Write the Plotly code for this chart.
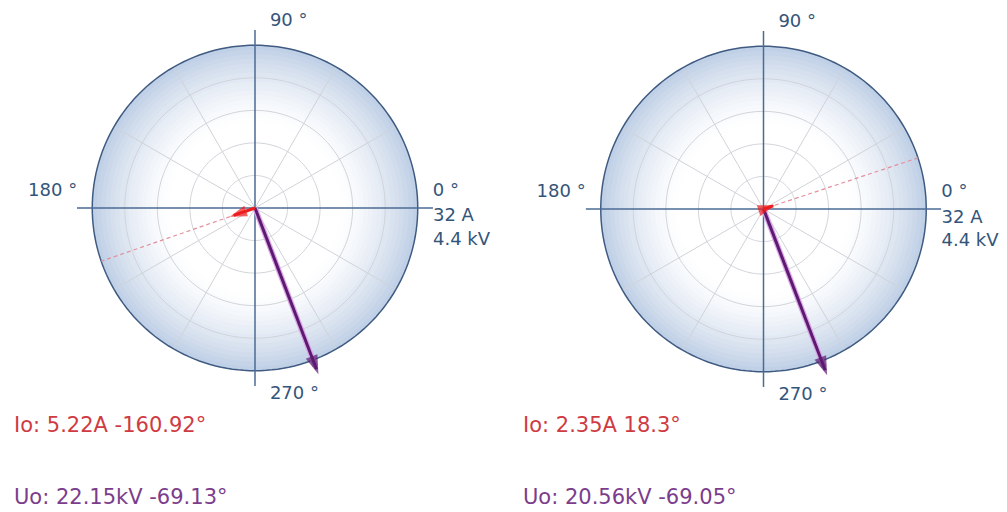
import numpy as np
import plotly.graph_objects as go

# ---- data ----
panels = ["left", "right"]
io_amps = [5.22, 2.35]          # A
io_angles = [-160.92, 18.3]     # degrees
uo_kv = [22.15, 20.56]          # kV
uo_angles = [-69.13, -69.05]    # degrees
scale_amps = 32                 # A at outer ring
scale_kv = 4.4                  # kV at outer ring
angle_labels = ["0 °", "90 °", "180 °", "270 °"]
angle_ticks = [0, 90, 180, 270]

RMAX = 35.0          # radial range (cross arms extend beyond outer ring)
R = scale_amps       # outer ring radius in A units

domains = [
    dict(x=[0.07646, 0.42999], y=[0.24609, 0.94141]),
    dict(x=[0.58143, 0.93496], y=[0.24414, 0.93945]),
]

AXIS_BLUE = "#4b6b95"
RING_BLUE = "#3f5b82"
GRID = "#cfd3d8"
LABEL = "#34557a"
RED = "#ee1c1c"
PURPLE = "#5c1a70"

fig = go.Figure()
full = np.linspace(0, 360, 181)

def grad_color(t):
    w = max(0.0, (t - 0.52) / 0.48) ** 1.5
    c0 = np.array([255, 255, 255])
    c1 = np.array([192, 208, 230])
    c = c0 + (c1 - c0) * w
    return "rgb(%d,%d,%d)" % tuple(int(round(v)) for v in c)

label_theta = {0: 2.3, 90: 85.2, 180: 177.7, 270: 274.8}
label_pos = {0: "top right", 90: "top right", 180: "top left", 270: "bottom right"}

for i, p in enumerate(panels):
    pid = "polar" if i == 0 else "polar2"
    N = 36
    for k in range(N, 0, -1):
        rk = R * k / N
        fig.add_trace(go.Scatterpolar(
            r=[rk] * len(full), theta=full, mode="lines", fill="toself",
            fillcolor=grad_color(k / N), line=dict(width=0), hoverinfo="skip",
            showlegend=False, subplot=pid))
    rr, tt = [], []
    for k in range(1, 5):
        rr += [R * k / 5] * len(full) + [None]
        tt += list(full) + [None]
    for a in range(0, 360, 30):
        if a % 90 == 0:
            continue
        rr += [0, R, None]
        tt += [a, a, None]
    fig.add_trace(go.Scatterpolar(r=rr, theta=tt, mode="lines",
                                  line=dict(color=GRID, width=1), hoverinfo="skip",
                                  showlegend=False, subplot=pid, connectgaps=False))
    fig.add_trace(go.Scatterpolar(r=[R] * len(full), theta=full, mode="lines",
                                  line=dict(color=RING_BLUE, width=1.5), hoverinfo="skip",
                                  showlegend=False, subplot=pid))
    rr, tt = [], []
    for a in angle_ticks:
        rr += [0, RMAX, None]
        tt += [a, a, None]
    fig.add_trace(go.Scatterpolar(r=rr, theta=tt, mode="lines",
                                  line=dict(color=AXIS_BLUE, width=1.5), hoverinfo="skip",
                                  showlegend=False, subplot=pid, connectgaps=False))
    io_r = io_amps[i]
    fig.add_trace(go.Scatterpolar(r=[io_r, R], theta=[io_angles[i]] * 2, mode="lines",
                                  line=dict(color="#e58e9c", width=1.2, dash="4px,3px"),
                                  hoverinfo="skip", showlegend=False, subplot=pid))
    u_r = min(uo_kv[i] / scale_kv * R, RMAX)
    fig.add_trace(go.Scatterpolar(r=[0, u_r * 0.95], theta=[uo_angles[i]] * 2, mode="lines",
                                  line=dict(color="#dca6e8", width=5.5), hoverinfo="skip",
                                  showlegend=False, subplot=pid))
    fig.add_trace(go.Scatterpolar(r=[0, u_r * 0.97], theta=[uo_angles[i]] * 2, mode="lines",
                                  line=dict(color=PURPLE, width=3),
                                  hoverinfo="skip", showlegend=False, subplot=pid))
    fig.add_trace(go.Scatterpolar(r=[0, u_r], theta=[uo_angles[i]] * 2, mode="markers",
                                  marker=dict(symbol="arrow", size=[0, 20], color=PURPLE,
                                              angle=[0, 90 - uo_angles[i]],
                                              line=dict(width=0)),
                                  hoverinfo="skip", showlegend=False, subplot=pid))
    fig.add_trace(go.Scatterpolar(r=[0, io_r * 0.85], theta=[io_angles[i]] * 2, mode="lines",
                                  line=dict(color=RED, width=3),
                                  hoverinfo="skip", showlegend=False, subplot=pid))
    fig.add_trace(go.Scatterpolar(r=[0, io_r], theta=[io_angles[i]] * 2, mode="markers",
                                  marker=dict(symbol="arrow", size=[0, 18], color=RED,
                                              angle=[0, 90 - io_angles[i]],
                                              line=dict(width=0)),
                                  hoverinfo="skip", showlegend=False, subplot=pid))
    for a, lab in zip(angle_ticks, angle_labels):
        fig.add_trace(go.Scatterpolar(r=[RMAX], theta=[label_theta[a]], mode="text", text=[lab],
                                      textposition=label_pos[a],
                                      textfont=dict(family="DejaVu Sans", size=18, color=LABEL),
                                      hoverinfo="skip", showlegend=False, subplot=pid))
    fig.add_trace(go.Scatterpolar(r=[RMAX], theta=[0], mode="text",
                                  text=[f"{scale_amps} A<br>{scale_kv} kV"],
                                  textposition="bottom right",
                                  textfont=dict(family="DejaVu Sans", size=18, color=LABEL),
                                  hoverinfo="skip", showlegend=False, subplot=pid))

    x0 = 0.0119 if i == 0 else 0.5174
    fig.add_annotation(xref="paper", yref="paper", x=x0, y=0.1699, xanchor="left",
                       yanchor="middle", showarrow=False,
                       text=f"Io: {io_amps[i]}A {io_angles[i]}°",
                       font=dict(family="DejaVu Sans", size=21, color="#cf3b42"))
    fig.add_annotation(xref="paper", yref="paper", x=x0, y=0.0293, xanchor="left",
                       yanchor="middle", showarrow=False,
                       text=f"Uo: {uo_kv[i]}kV {uo_angles[i]}°",
                       font=dict(family="DejaVu Sans", size=21, color="#7b3d8c"))

polar_common = dict(
    bgcolor="rgba(0,0,0,0)",
    radialaxis=dict(visible=False, range=[0, RMAX]),
    angularaxis=dict(visible=False, rotation=0, direction="counterclockwise"),
)
fig.update_layout(
    width=1007, height=512,
    margin=dict(l=0, r=0, t=0, b=0),
    paper_bgcolor="white", plot_bgcolor="white",
    polar=dict(domain=domains[0], **polar_common),
    polar2=dict(domain=domains[1], **polar_common),
    showlegend=False,
)
fig.write_html("out.html", config={"displayModeBar": False},
               post_script="document.body.style.margin='0';document.body.style.overflow='hidden';")
